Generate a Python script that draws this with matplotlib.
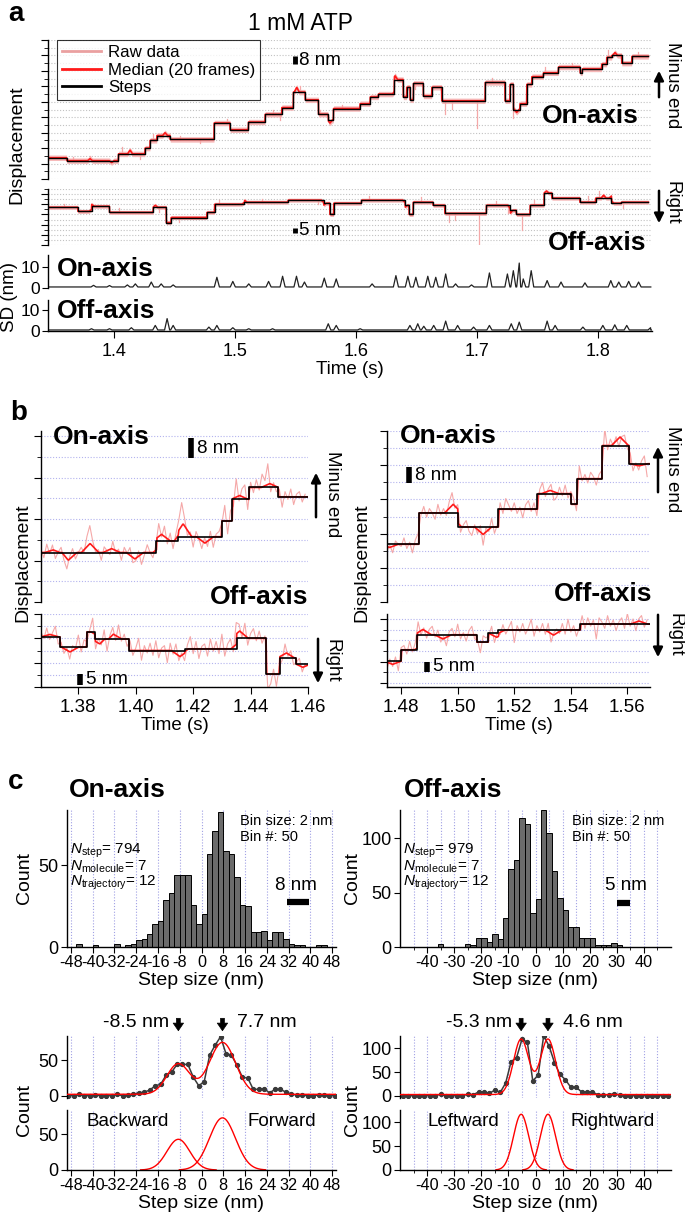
import numpy as np
import matplotlib
matplotlib.use('Agg')
import matplotlib.pyplot as plt
from matplotlib.lines import Line2D
from matplotlib.patches import FancyArrowPatch

plt.rcParams['font.family'] = ['Liberation Sans', 'DejaVu Sans']
plt.rcParams['mathtext.fontset'] = 'custom'
plt.rcParams['mathtext.rm'] = 'Liberation Sans'
plt.rcParams['mathtext.it'] = 'Liberation Sans:italic'
plt.rcParams['axes.linewidth'] = 1.0
plt.rcParams['axes.unicode_minus'] = False

# ---------------- data: panel a (1 mM ATP trace) ----------------
a_on_t = [1.345, 1.3605, 1.4032, 1.4253, 1.4294, 1.435, 1.446, 1.4824, 1.4957, 1.5108,
          1.5246, 1.5385, 1.5481, 1.5578, 1.5688, 1.577, 1.5812, 1.6033, 1.6116, 1.6184,
          1.6317, 1.6391, 1.6419, 1.6447, 1.6474, 1.6557, 1.6626, 1.6709, 1.7068, 1.7233,
          1.7275, 1.7302, 1.7357, 1.7413, 1.7454, 1.755, 1.7674, 1.7854, 1.7873, 1.8033,
          1.8075, 1.8116, 1.8199, 1.8282]
a_on_nm = [22, 19, 26, 32, 40, 45, 41, 58, 51, 59, 67, 74, 90, 82, 67, 61, 73, 78, 85, 88,
           103, 85, 95, 82, 99, 86, 95, 81, 100, 81, 98, 72, 78, 98, 106, 110, 116, 110, 114, 119,
           126, 128, 120, 127]
a_on_bumps = [(1.3798, 2), (1.3977, -2), (1.4129, 4), (1.4419, 3), (1.5509, 5), (1.5784, -3),
              (1.6323, 4), (1.733, -3), (1.8144, 3)]
a_on_spikes = [(1.3659, 4), (1.3798, 5), (1.406, 7), (1.4212, -5), (1.4322, 7), (1.4543, 4),
               (1.4708, -4), (1.4929, 4), (1.5315, 5), (1.537, -6), (1.5536, 6), (1.5702, 5),
               (1.5881, 4), (1.6323, 6), (1.6488, -6), (1.6736, -14), (1.6792, -8), (1.7, -28),
               (1.7123, 5), (1.7302, -9), (1.7413, -8), (1.7564, 6), (1.7785, 4), (1.8088, 8),
               (1.8199, 4), (1.8337, 5)]

a_off_t = [1.345, 1.3696, 1.3811, 1.3958, 1.432, 1.4428, 1.4468, 1.4764, 1.4829, 1.5076,
           1.5437, 1.5732, 1.5782, 1.5815, 1.6044, 1.6406, 1.6438, 1.6472, 1.6636, 1.6735,
           1.7079, 1.7276, 1.7326, 1.7441, 1.7556, 1.7621, 1.7852, 1.7983, 1.8114, 1.8196]
a_off_nm = [37, 33, 38, 32, 37, 22, 27, 32, 40, 42, 44, 41, 30, 41, 44, 39, 30, 42, 39, 31,
            39, 34, 30, 39, 51, 46, 42, 46, 41, 42]
a_off_bumps = [(1.3811, 2), (1.4338, 2), (1.5076, 2), (1.5732, -2), (1.6406, -2), (1.7276, -3),
               (1.7576, 2), (1.8049, 3), (1.8114, 2)]
a_off_spikes = [(1.3581, 3), (1.4041, 4), (1.4369, -5), (1.4534, -4), (1.4862, 4), (1.5223, 3),
                (1.5683, -4), (1.611, 4), (1.6538, 5), (1.6767, -8), (1.6817, -6), (1.7014, -30),
                (1.7161, 4), (1.7261, -8), (1.7375, -15), (1.7473, 5), (1.7917, 6), (1.8015, 7),
                (1.8212, -6)]

sd_on_peaks = [(1.3827, 1.3), (1.3959, 1.2), (1.4107, 1.5), (1.4173, 2.0), (1.4305, 2.9),
               (1.4387, 2.0), (1.4486, 1.5), (1.4848, 5.2), (1.498, 3.2), (1.5112, 2.0),
               (1.5276, 3.2), (1.5392, 5.7), (1.5507, 5.7), (1.5573, 2.9), (1.5737, 4.8),
               (1.5836, 4.4), (1.6133, 2.0), (1.633, 6.0), (1.6429, 5.7), (1.6495, 5.2),
               (1.6594, 5.7), (1.666, 5.2), (1.6742, 6.8), (1.6824, 2.0), (1.6956, 1.5),
               (1.7104, 7.3), (1.7253, 6.8), (1.7302, 8.4), (1.7351, 12.1), (1.7384, 4.4),
               (1.745, 8.4), (1.7582, 3.6), (1.7697, 2.9), (1.7895, 2.5), (1.8109, 3.6),
               (1.8175, 2.9), (1.8257, 3.2), (1.8339, 2.9)]
sd_off_peaks = [(1.381, 1.1), (1.3959, 1.1), (1.414, 1.6), (1.4338, 2.7), (1.4436, 6.0),
                (1.4486, 2.7), (1.4782, 1.9), (1.4848, 2.7), (1.498, 1.6), (1.5112, 1.1),
                (1.5309, 1.1), (1.577, 3.5), (1.5836, 2.7), (1.6034, 1.1), (1.6446, 2.7),
                (1.6511, 3.5), (1.6561, 2.3), (1.6643, 2.7), (1.6742, 4.8), (1.6841, 2.7),
                (1.6973, 1.9), (1.7104, 2.7), (1.7285, 3.5), (1.7351, 4.3), (1.7582, 4.8),
                (1.7648, 2.7), (1.7878, 1.9), (1.8043, 2.7), (1.8142, 3.0), (1.8241, 2.7),
                (1.8438, 1.6)]

# ---------------- data: panel b (zoomed traces) ----------------
lb_on_t = [1.367, 1.4072, 1.4148, 1.4299, 1.4337, 1.4395, 1.4496]
lb_on_nm = [19.1, 23.6, 25.2, 31.3, 39.6, 44.2, 40.6]
lb_on_bumps = [(1.3713, 1), (1.3765, -3), (1.3841, 3.5), (1.3916, 1.5), (1.3997, -2.5),
               (1.409, 2.5), (1.4165, 5), (1.4241, -2.5), (1.4362, 1.5), (1.4467, 1.5)]
lb_on_jit = [1, -2, 3, -1, 2, -3, 0, 2, -2, -4, 1, 3, -2, 0, 2, -1, 4, 7, 2, -1,
             1, -3, 2, 0, -2, 3, -1, 1, -3, 2, 0, 3, -2, -1, 2, -4, -1, 3, 0, -2,
             2, 5, -1, 4, -2, 3, -3, 2, 4, 9, 3, -2, 1, -4, 2, 0, -3, 2, -2, 3,
             -4, 1, 2, -1, 6, -5, 4, -3, 7, -2, 3, 5, -4, 2, -2, 3, -1, 5, 2, 8,
             -3, 1, -2, 3, -4, 2, -1, 3, -3, 1, 2, -2, 1]
lb_off_t = [1.367, 1.3736, 1.3829, 1.3858, 1.3977, 1.4171, 1.4351, 1.4455, 1.4501, 1.4559]
lb_off_nm = [20.6, 16.4, 22.6, 19.7, 15.0, 15.7, 20.0, 5.3, 12.0, 9.6]
lb_off_bumps = [(1.3701, 1), (1.3771, -2), (1.3875, -2), (1.3922, 2), (1.4154, -2.5),
                (1.4362, 3), (1.4525, 2), (1.4582, -1.5)]
lb_off_jit = [2, -1, 3, -2, 1, 4, -3, 2, -2, 1, -3, 2, 0, 5, -2, 3, -4, 1, 6, -3,
              2, -1, 4, -5, 1, 3, -2, 5, -1, 2, -3, 4, -2, 1, 5, -4, 2, -1, 3, -2,
              4, -3, 1, 2, -5, 3, -1, 4, -2, 1, -3, 2, 5, -2, 3, -4, 1, 2, -3, 4,
              -1, 3, -2, 6, -3, 2, 4, -2, 9, 3, -2, 5, -3, 2, 4, -1, 3, -2, 1, -6,
              -4, 2, -5, 3, -2, 4, -1, 2, -3, 1, 3, -2, 1]

rb_on_t = [1.475, 1.4863, 1.5001, 1.5144, 1.5282, 1.5401, 1.5422, 1.5511, 1.5606]
rb_on_nm = [27.0, 41.7, 35.1, 43.4, 50.7, 45.7, 57.7, 73.2, 64.7]
rb_on_bumps = [(1.4759, -1.5), (1.4984, 4), (1.509, -3.5), (1.5327, 1.5), (1.5574, 4),
               (1.5641, -1)]
rb_on_jit = [-2, 1, -3, 2, 0, -1, 3, -2, 1, -4, 2, 5, -1, 3, -2, 2, 0, -3, 4, -1,
             2, -2, 3, 6, -1, 2, -3, 1, 3, -2, -4, 1, -2, 3, -5, 2, -1, 4, -3, 1,
             3, -2, 5, 2, -1, 3, -2, 1, -4, 2, 4, -1, 3, -3, 2, 5, -2, 1, 3, -4,
             -2, 3, -1, 4, -2, 1, 3, -3, 6, -1, 2, -2, 3, 1, -3, 2, 4, 8, -2, 3,
             -1, 2, -4, 1, 3, -2, 5, -3, 1, -2, 2, 4, -6]
rb_off_t = [1.475, 1.48, 1.4856, 1.5067, 1.5108, 1.5144, 1.5434]
rb_off_nm = [10.2, 15.6, 22.7, 19.2, 23.5, 25.0, 27.7]
rb_off_bumps = [(1.477, -1.5), (1.4877, 2.5), (1.4948, -2), (1.5138, -2), (1.5339, -2.5),
                (1.5641, 1.5)]
rb_off_jit = [-3, 2, -1, 3, -4, 1, 2, -2, 4, -1, 3, 5, -2, 1, -3, 2, 4, -1, 3, -2,
              1, -4, 2, 3, -1, 5, -2, 1, -3, 2, 4, -2, 1, -5, 3, 2, -1, 4, -3, 2,
              -1, 3, -2, 1, 4, -6, 2, -1, 3, -2, 1, 5, -3, 2, -1, 3, -2, 4, -4, 1,
              2, -1, 3, -2, 5, -1, 2, -3, 1, 4, -2, 3, -1, 2, -7, 3, 1, -2, 4, -1,
              2, -3, 1, 3, -2, 5, -1, 2, -4, 1, 3, -2, 2]

# ---------------- data: panel c (step-size histograms) ----------------
bin_centers = list(range(-49, 50, 2))
on_counts = [0, 0, 2, 0, 0, 1, 0, 0, 0, 2, 0, 1, 2, 4, 5, 8, 14, 16, 29, 33,
             44, 44, 44, 26, 14, 20, 57, 71, 83, 59, 57, 43, 26, 25, 9, 9, 10, 4, 9, 9,
             5, 2, 1, 1, 0, 0, 1, 1, 0, 0]
off_counts = [0, 0, 0, 0, 0, 0, 0, 3, 0, 0, 0, 0, 3, 2, 8, 8, 5, 12, 7, 27,
              72, 80, 119, 113, 31, 44, 126, 105, 70, 45, 34, 18, 18, 8, 8, 8, 2, 2, 2, 4,
              2, 0, 0, 0, 0, 0, 0, 0, 0, 0]
on_fit_mu = [-8.5, 7.7]
on_fit_amp = [43, 73]
on_fit_sig = [4.2, 4.8]
on_fit_base = 2
off_fit_mu = [-5.3, 4.6]
off_fit_amp = [117, 117]
off_fit_sig = [2.8, 2.8]
off_fit_base = 2.5

# ---------------- styles ----------------
RAW = '#f5a8a8'
RAW_BAND = '#f7b8b8'
MED = '#ff1a1a'
GRID_A = '#c2c2c2'
GRID_B = '#b3b3ee'
GRID_C = '#a0a0e4'
DOT = (0, (1, 1.6))
W, H = 685, 1220

fig = plt.figure(figsize=(W / 100, H / 100), dpi=100)


def add_ax(x0, y0, x1, y1):
    ax = fig.add_axes([x0 / W, (H - y1) / H, (x1 - x0) / W, (y1 - y0) / H])
    ax.patch.set_visible(False)
    for s in ['top', 'right']:
        ax.spines[s].set_visible(False)
    return ax


def ftxt(x, y, s, **kw):
    kw.setdefault('va', 'center')
    fig.text(x / W, 1 - y / H, s, **kw)


def farrow(x, y0, y1, lw=1.8, ms=14, style='-|>'):
    fig.add_artist(FancyArrowPatch((x / W, 1 - y0 / H), (x / W, 1 - y1 / H),
                                   transform=fig.transFigure, arrowstyle=style,
                                   mutation_scale=ms, lw=lw, color='k'))


def step_at(tg, st, sy):
    idx = np.clip(np.searchsorted(st, tg, side='right') - 1, 0, len(sy) - 1)
    return np.array(sy, dtype=float)[idx]


def bump_at(tg, bumps, w):
    kt, kv = [], []
    for tc, d in bumps:
        kt += [tc - w, tc, tc + w]
        kv += [0, d, 0]
    o = np.argsort(kt)
    return np.interp(tg, np.array(kt)[o], np.array(kv)[o], left=0, right=0)


def trace_axis(ax, xlim, ylim, major, minor, grid, bottom=False):
    ax.set_xlim(xlim)
    ax.set_ylim(ylim)
    ax.set_yticks(major)
    ax.set_yticks(minor, minor=True)
    ax.tick_params(axis='y', which='major', length=5, labelleft=False)
    ax.tick_params(axis='y', which='minor', length=3, labelleft=False)
    for v in sorted(set(major) | set(minor)):
        ax.axhline(v, color=grid, lw=0.8, ls=DOT, zorder=0)
    if not bottom:
        ax.spines['bottom'].set_visible(False)
        ax.tick_params(axis='x', bottom=False, labelbottom=False)


def draw_a_trace(ax, st, sy, bumps, spikes, band, tend):
    tg = np.arange(st[0], tend, 0.0002)
    med = step_at(tg, st, sy) + bump_at(tg, bumps, 0.002)
    ax.fill_between(tg, med - band, med + band, color=RAW_BAND, lw=0, zorder=1)
    for ts, amp in spikes:
        m0 = step_at(np.array([ts]), st, sy)[0]
        ax.plot([ts, ts], [m0, m0 + amp], color=RAW, lw=0.9, zorder=1)
    ax.plot(tg, med, color=MED, lw=1.2, zorder=2)
    ax.step(list(st) + [tend], list(sy) + [sy[-1]], where='post', color='k', lw=1.0, zorder=3)


def draw_b_trace(ax, st, sy, bumps, jit, tend):
    tr = st[0] + np.arange(len(jit)) * 0.001
    raw = step_at(tr, st, sy) + bump_at(tr, bumps, 0.003) + np.array(jit, dtype=float)
    ax.plot(tr, raw, color=RAW, lw=0.8, zorder=1)
    tg = np.arange(st[0], tend, 0.0002)
    med = step_at(tg, st, sy) + bump_at(tg, bumps, 0.003)
    ax.plot(tg, med, color=MED, lw=1.2, zorder=2)
    ax.step(list(st) + [tend], list(sy) + [sy[-1]], where='post', color='k', lw=1.2, zorder=3)


def sd_curve(peaks, t0, t1, base=0.5, w=0.0021):
    kt, kv = [t0], [base]
    for tc, h in peaks:
        kt += [tc - w, tc, tc + w]
        kv += [base, h, base]
    kt.append(t1)
    kv.append(base)
    o = np.argsort(kt)
    return np.array(kt)[o], np.array(kv)[o]


BOLD = dict(fontsize=19, fontweight='bold')

# ================= panel a =================
xa = (1.345, 1.845)
ftxt(8, 14, 'a', fontsize=20, fontweight='bold')
ftxt(300, 24, '1 mM ATP', fontsize=16.5, ha='center')

ax = add_ax(48, 40, 652, 179)
trace_axis(ax, xa, (0, 144), list(range(0, 145, 16)), list(range(8, 145, 16)), GRID_A)
draw_a_trace(ax, a_on_t, a_on_nm, a_on_bumps, a_on_spikes, 2.8, 1.842)
ax.plot([1.5495, 1.5495], [119, 127], color='k', lw=3.5, solid_capstyle='butt')
ax.text(1.553, 123, '8 nm', fontsize=13.5, va='center')
handles = [Line2D([], [], color='#eaa0a0', lw=2), Line2D([], [], color=MED, lw=2),
           Line2D([], [], color='k', lw=2)]
leg = ax.legend(handles, ['Raw data', 'Median (20 frames)', 'Steps'], loc='upper left',
                bbox_to_anchor=(9 / 604, 1.0), borderaxespad=0, fontsize=12.2,
                frameon=True, fancybox=False, edgecolor='k', handlelength=2.3,
                handletextpad=0.4, borderpad=0.3, labelspacing=0.15)
leg.get_frame().set_linewidth(0.8)
ftxt(590, 116, 'On-axis', ha='center', **BOLD)

ax = add_ax(48, 189, 652, 245)
trace_axis(ax, xa, (0, 55), list(range(0, 56, 10)), list(range(5, 56, 10)), GRID_A)
draw_a_trace(ax, a_off_t, a_off_nm, a_off_bumps, a_off_spikes, 2.0, 1.842)
ax.plot([1.5495, 1.5495], [11.7, 16.7], color='k', lw=3.5, solid_capstyle='butt')
ax.text(1.553, 14.2, '5 nm', fontsize=13.5, va='center')
ftxt(597, 243, 'Off-axis', ha='center', **BOLD)

ftxt(17, 145, 'Displacement', rotation=90, ha='center', fontsize=14)
ftxt(672, 85, 'Minus end', rotation=-90, ha='center', fontsize=13.5)
farrow(659, 100, 68)
ftxt(672, 203, 'Right', rotation=-90, ha='center', fontsize=13.5)
farrow(659, 188, 226)

ax = add_ax(48, 255, 652, 288)
ax.set_xlim(xa)
ax.set_ylim(0, 16)
ax.spines['bottom'].set_visible(False)
ax.tick_params(axis='x', bottom=False, labelbottom=False)
ax.set_yticks([0, 10])
ax.tick_params(axis='y', length=4, labelsize=12.5, pad=1.5)
tk, vk = sd_curve(sd_on_peaks, xa[0] + 0.001, 1.844)
ax.plot(tk, vk, color='#222222', lw=0.9)
ftxt(57, 269, 'On-axis', ha='left', **BOLD)

ax = add_ax(48, 300, 652, 331)
ax.set_xlim(xa)
ax.set_ylim(0, 15)
ax.set_yticks([0, 10])
ax.set_xticks([1.4, 1.5, 1.6, 1.7, 1.8])
ax.set_xticklabels(['1.4', '1.5', '1.6', '1.7', '1.8'])
ax.tick_params(axis='y', length=4, labelsize=12.5, pad=1.5)
ax.tick_params(axis='x', length=5, labelsize=13)
tk, vk = sd_curve(sd_off_peaks, xa[0] + 0.001, 1.844)
ax.plot(tk, vk, color='#222222', lw=0.9)
ax.set_xlabel('Time (s)', fontsize=13.5, labelpad=1)
ftxt(57, 311, 'Off-axis', ha='left', **BOLD)
ftxt(10, 297, 'SD (nm)', rotation=90, ha='center', fontsize=13.5)

# ================= panel b =================
ftxt(10, 413, 'b', fontsize=20, fontweight='bold')

for (xl, xr, xlim, on_t, on_nm, on_b, on_j, on_ylim,
     off_t, off_nm, off_b, off_j, off_ylim, ticks, side) in [
        (41, 308, (1.367, 1.46), lb_on_t, lb_on_nm, lb_on_bumps, lb_on_jit, (0, 66),
         lb_off_t, lb_off_nm, lb_off_bumps, lb_off_jit, (0, 29),
         [1.38, 1.40, 1.42, 1.44, 1.46], 'L'),
        (387, 650, (1.475, 1.568), rb_on_t, rb_on_nm, rb_on_bumps, rb_on_jit, (0, 80),
         rb_off_t, rb_off_nm, rb_off_bumps, rb_off_jit, (-2, 32.5),
         [1.48, 1.50, 1.52, 1.54, 1.56], 'R')]:
    ax = add_ax(xl, 431, xr, 602)
    top = on_ylim[1]
    trace_axis(ax, xlim, on_ylim, list(range(0, int(top) + 1, 16)),
               list(range(8, int(top) + 1, 16)), GRID_B)
    draw_b_trace(ax, on_t, on_nm, on_b, on_j, xlim[1])

    ax2 = add_ax(xl, 614, xr, 687)
    trace_axis(ax2, xlim, off_ylim, list(range(0, 31, 10)), list(range(5, 31, 10)),
               GRID_B, bottom=True)
    draw_b_trace(ax2, off_t, off_nm, off_b, off_j, xlim[1])
    ax2.set_xticks(ticks)
    ax2.set_xticklabels(['%.2f' % v for v in ticks])
    ax2.tick_params(axis='x', length=5, labelsize=13.5)
    ax2.set_xlabel('Time (s)', fontsize=13.5, labelpad=1)

    if side == 'L':
        ax.plot([1.4191, 1.4191], [55.5, 63.2], color='k', lw=4, solid_capstyle='butt')
        ax.text(1.4212, 59.3, '8 nm', fontsize=13.5, va='center')
        ax2.plot([1.3805, 1.3805], [0.7, 5.2], color='k', lw=4, solid_capstyle='butt')
        ax2.text(1.3825, 3.0, '5 nm', fontsize=13.5, va='center')
        ftxt(101, 437, 'On-axis', ha='center', **BOLD)
        ftxt(308, 597, 'Off-axis', ha='right', **BOLD)
        ftxt(23, 563, 'Displacement', rotation=90, ha='center', fontsize=14)
        ftxt(332, 494, 'Minus end', rotation=-90, ha='center', fontsize=13.5)
        farrow(316, 520, 470)
        ftxt(332, 661, 'Right', rotation=-90, ha='center', fontsize=13.5)
        farrow(318, 636, 686)
    else:
        ax.plot([1.4828, 1.4828], [55.6, 63.1], color='k', lw=4, solid_capstyle='butt')
        ax.text(1.485, 59.3, '8 nm', fontsize=13.5, va='center')
        ax2.plot([1.4893, 1.4893], [5.2, 9.9], color='k', lw=4, solid_capstyle='butt')
        ax2.text(1.4913, 7.5, '5 nm', fontsize=13.5, va='center')
        ftxt(448, 436, 'On-axis', ha='center', **BOLD)
        ftxt(652, 594, 'Off-axis', ha='right', **BOLD)
        ftxt(362, 563, 'Displacement', rotation=90, ha='center', fontsize=14)
        ftxt(673, 469, 'Minus end', rotation=-90, ha='center', fontsize=13.5)
        farrow(658, 495, 444)
        ftxt(675, 635, 'Right', rotation=-90, ha='center', fontsize=13.5)
        farrow(658, 612, 660)

# ================= panel c =================
ftxt(8, 782, 'c', fontsize=20, fontweight='bold')


def gauss(x, a, m, s):
    return a * np.exp(-(x - m) ** 2 / (2 * s ** 2))


specs = [
    dict(x0=67, x1=336, xlim=(-49.4, 49.4), counts=on_counts, ymax=84, yt=[0, 50],
         xt=list(range(-48, 49, 8)), xminor=[], grid=list(range(-48, 49, 8)),
         title='On-axis', tx=117, n=('794', '7', '12'), binx=240, nx=70,
         bar=(31.5, 39.5, 27.6), bartxt='8 nm', barx=296,
         mu=on_fit_mu, amp=on_fit_amp, sig=on_fit_sig, base=on_fit_base,
         lab=('Backward', 'Forward'), labx=(128, 282),
         ann=('-8.5 nm', '7.7 nm'), cnt_x=25),
    dict(x0=400, x1=671, xlim=(-50, 50), counts=off_counts, ymax=126, yt=[0, 50, 100],
         xt=list(range(-40, 41, 10)), xminor=list(range(-45, 46, 10)),
         grid=list(range(-45, 46, 5)),
         title='Off-axis', tx=453, n=('979', '7', '12'), binx=572, nx=403,
         bar=(30.1, 34.9, 40.5), bartxt='5 nm', barx=626,
         mu=off_fit_mu, amp=off_fit_amp, sig=off_fit_sig, base=off_fit_base,
         lab=('Leftward', 'Rightward'), labx=(463, 613),
         ann=('-5.3 nm', '4.6 nm'), cnt_x=353),
]

for sp in specs:
    # histogram
    ax = add_ax(sp['x0'], 810, sp['x1'], 947)
    for g in sp['grid']:
        ax.axvline(g, color=GRID_C, lw=0.8, ls=DOT, zorder=0)
    ax.bar(bin_centers, sp['counts'], width=2, color='#6b6b6b', edgecolor='k', lw=0.7, zorder=2)
    ax.set_xlim(sp['xlim'])
    ax.set_ylim(0, sp['ymax'])
    ax.set_yticks(sp['yt'])
    ax.set_xticks(sp['xt'])
    ax.set_xticks(sp['xminor'], minor=True)
    ax.tick_params(axis='y', length=4, labelsize=13, pad=2)
    ax.tick_params(axis='x', length=4, labelsize=11.7, pad=2)
    ax.tick_params(axis='x', which='minor', length=2.5)
    ax.set_xlabel('Step size (nm)', fontsize=14, labelpad=1)
    b0, b1, by = sp['bar']
    ax.plot([b0, b1], [by, by], color='k', lw=4.5, solid_capstyle='butt')
    ftxt(sp['barx'], 885, sp['bartxt'], ha='center', fontsize=13.5)
    ftxt(sp['tx'], 790, sp['title'], ha='center', **BOLD)
    ftxt(sp['binx'], 821, 'Bin size: 2 nm', ha='left', fontsize=10.5)
    ftxt(sp['binx'], 837, 'Bin #: 50', ha='left', fontsize=10.5)
    ftxt(sp['nx'], 851, r'$N_{\mathrm{step}}$= ' + sp['n'][0], ha='left', fontsize=11)
    ftxt(sp['nx'], 867, r'$N_{\mathrm{molecule}}$= ' + sp['n'][1], ha='left', fontsize=11)
    ftxt(sp['nx'], 883, r'$N_{\mathrm{trajectory}}$= ' + sp['n'][2], ha='left', fontsize=11)
    ftxt(sp['cnt_x'], 878, 'Count', rotation=90, ha='center', fontsize=14)

    # fit: data + sum of gaussians
    xs = np.linspace(-50, 50, 400)
    fit = sp['base'] + gauss(xs, sp['amp'][0], sp['mu'][0], sp['sig'][0]) \
        + gauss(xs, sp['amp'][1], sp['mu'][1], sp['sig'][1])
    ax = add_ax(sp['x0'], 1036, sp['x1'], 1098)
    for g in sp['grid']:
        ax.axvline(g, color=GRID_C, lw=0.8, ls=DOT, zorder=0)
    ax.plot(bin_centers, sp['counts'], color='#3a3a3a', lw=1.1, marker='o', ms=2.8, zorder=2)
    ax.plot(xs, fit, color='red', lw=1.0, zorder=3)
    ax.set_xlim(sp['xlim'])
    ax.set_ylim(-sp['ymax'] * 0.038, sp['ymax'])
    ax.spines['bottom'].set_visible(False)
    ax.tick_params(axis='x', bottom=False, labelbottom=False)
    ax.set_yticks(sp['yt'])
    ax.tick_params(axis='y', length=4, labelsize=13, pad=2)
    tr = ax.get_xaxis_transform()
    for m, txt, side in zip(sp['mu'], sp['ann'], ['right', 'left']):
        ax.annotate('', xy=(m, 1.04), xytext=(m, 1.33), xycoords=tr, textcoords=tr,
                    arrowprops=dict(arrowstyle='simple,head_length=0.55,head_width=0.75,tail_width=0.28',
                                    color='k', lw=0.5))
        off = -3.5 if side == 'right' else 5.5
        ax.text(m + off, 1.21, txt, transform=tr, ha=side, va='center', fontsize=14)

    ax = add_ax(sp['x0'], 1110, sp['x1'], 1170)
    for g in sp['grid']:
        ax.axvline(g, color=GRID_C, lw=0.8, ls=DOT, zorder=0)
    for a_, m_, s_ in zip(sp['amp'], sp['mu'], sp['sig']):
        xg = np.linspace(m_ - 3.3 * s_, m_ + 3.3 * s_, 200)
        ax.plot(xg, gauss(xg, a_, m_, s_), color='red', lw=1.0)
    ax.set_xlim(sp['xlim'])
    ax.set_ylim(0, sp['ymax'])
    ax.set_yticks(sp['yt'])
    ax.set_xticks(sp['xt'])
    ax.set_xticks(sp['xminor'], minor=True)
    ax.tick_params(axis='y', length=4, labelsize=13, pad=2)
    ax.tick_params(axis='x', length=4, labelsize=11.7, pad=2)
    ax.tick_params(axis='x', which='minor', length=2.5)
    ax.set_xlabel('Step size (nm)', fontsize=14, labelpad=1)
    ftxt(sp['labx'][0], 1122, sp['lab'][0], ha='center', fontsize=13.5)
    ftxt(sp['labx'][1], 1122, sp['lab'][1], ha='center', fontsize=13.5)
    ftxt(sp['cnt_x'], 1110, 'Count', rotation=90, ha='center', fontsize=14)

fig.savefig('out.png', dpi=100)
